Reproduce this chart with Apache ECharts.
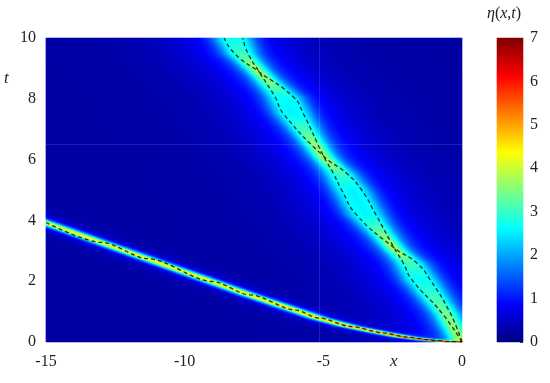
<!DOCTYPE html>
<html><head><meta charset="utf-8">
<script src="https://cdn.jsdelivr.net/npm/echarts@6/dist/echarts.min.js"></script>
<style>html,body{margin:0;padding:0;background:#fff}#c{width:550px;height:383px}</style>
</head><body><div id="c"></div>
<script>
// ---- data ----
const xTicks = [-15, -10, -5, 0];
const tTicks = [0, 2, 4, 6, 8, 10];
const colorTicks = [0, 1, 2, 3, 4, 5, 6, 7];
// lower (fast) soliton trajectory [x, t]
const lowerSoliton = [[-15,3.93],[-13,3.28],[-11.32,2.74],[-9,1.99],[-7.64,1.55],[-6,1.05],[-5.16,0.79],[-4,0.51],[-2.84,0.30],[-2,0.16],[-1.05,0.06],[-0.5,0.02],[0,0]];
// two interacting slow solitons [x, t]
const upperSolitonA = [[0,0],[-0.43,0.96],[-1.15,2.05],[-1.63,2.60],[-2.45,3.10],[-3.80,4.18],[-4.34,5.0],[-4.64,5.55],[-4.99,6.11],[-5.72,7.51],[-6.08,8.06],[-7.31,8.88],[-8.19,9.48],[-8.58,10]];
const upperSolitonB = [[0,0],[-0.73,0.96],[-1.81,2.05],[-2.12,2.60],[-2.45,3.10],[-3.10,4.18],[-3.62,5.0],[-4.16,5.55],[-4.99,6.11],[-6.44,7.51],[-6.74,8.06],[-7.31,8.88],[-7.71,9.48],[-7.91,10]];
// peak height of the lower soliton along t [t, eta]
const lowerAmplitude = [[0,7],[0.05,5.8],[0.15,5.0],[0.3,4.6],[0.8,4.2],[1.5,4.0],[4,3.8]];
const upperAmplitude = [1.2];
const haloAmplitude = [0.75, 0.3];
const backgroundLevel = [0.24];

const jet = ['#00007F','#0000FF','#0080FF','#00FFFF','#80FF80','#FFFF00','#FF8000','#FF0000','#800000'];

// ---- field reconstruction helpers ----
function lerp(pts, ki, vi, q) {
  const n = pts.length;
  let a, b;
  if (q <= pts[0][ki]) { a = pts[0]; b = pts[1]; }
  else if (q >= pts[n-1][ki]) { a = pts[n-2]; b = pts[n-1]; }
  else {
    for (let k = 0; k < n-1; k++) {
      if (q >= pts[k][ki] && q <= pts[k+1][ki]) { a = pts[k]; b = pts[k+1]; break; }
    }
  }
  const d = b[ki] - a[ki];
  if (d === 0) return a[vi];
  return a[vi] + (b[vi] - a[vi]) * (q - a[ki]) / d;
}
function sech2(u) { if (Math.abs(u) > 20) return 0; const c = Math.cosh(u); return 1/(c*c); }
const lowerByT = lowerSoliton.slice().reverse();

const NX = 208, NT = 304;
const xCats = [], tCats = [];
for (let i = 0; i < NX; i++) xCats.push(String(i));
for (let j = 0; j < NT; j++) tCats.push(String(j));
const field = [];
for (let j = 0; j < NT; j++) {
  const t = (j + 0.5) * 10 / NT;
  const xl = lerp(lowerByT, 1, 0, t);
  const al = lerp(lowerAmplitude, 0, 1, t);
  const xa = lerp(upperSolitonA, 1, 0, t);
  const xb = lerp(upperSolitonB, 1, 0, t);
  const xm = (xa + xb) / 2;
  for (let i = 0; i < NX; i++) {
    const x = -15 + (i + 0.5) * 15 / NX;
    let v = backgroundLevel[0];
    v += al * sech2((x - xl) / 0.34);
    v += 0.2 * sech2((x - xl) / 1.1);
    v += upperAmplitude[0] * (sech2((x - xa) / 0.42) + sech2((x - xb) / 0.42));
    v += haloAmplitude[0] * sech2((x - xm) / 1.4);
    v += haloAmplitude[1] * sech2((x - xm) / 3.0);
    field.push([i, j, Math.min(v, 7)]);
  }
}
const NCB = 152, cbCats = [], cbData = [];
for (let j = 0; j < NCB; j++) { cbCats.push(String(j)); cbData.push([0, j, (j + 0.5) * 7 / NCB]); }

const serif = 'Liberation Serif, Times New Roman, serif';
const dashStyle = { color: '#1a1a1a', width: 1.3, type: [4, 3], opacity: 0.9 };

const chart = echarts.init(document.getElementById('c'), null, { renderer: 'canvas' });
chart.setOption({
  animation: false,
  backgroundColor: '#fff',
  grid: [
    { left: 46, top: 38, width: 416, height: 304, containLabel: false, outerBoundsMode: 'none' },
    { left: 497, top: 38, width: 26, height: 304, containLabel: false, outerBoundsMode: 'none' }
  ],
  xAxis: [
    { type: 'category', gridIndex: 0, position: 'top', data: xCats, show: false },
    { type: 'value', gridIndex: 0, position: 'bottom', min: -15, max: 0, interval: 5,
      axisLine: { show: false }, axisTick: { show: false }, splitLine: { show: false },
      axisLabel: { fontFamily: serif, fontSize: 16, color: '#222', margin: 12 } },
    { type: 'category', gridIndex: 1, data: ['c'], show: false }
  ],
  yAxis: [
    { type: 'category', gridIndex: 0, position: 'right', data: tCats, show: false },
    { type: 'value', gridIndex: 0, position: 'left', min: 0, max: 10, interval: 2,
      axisLine: { show: false }, axisTick: { show: false }, splitLine: { show: false },
      axisLabel: { fontFamily: serif, fontSize: 16, color: '#222', margin: 10 } },
    { type: 'category', gridIndex: 1, position: 'left', data: cbCats, show: false },
    { type: 'value', gridIndex: 1, min: 0, max: 7, interval: 1, position: 'right',
      axisLine: { show: false }, splitLine: { show: false },
      axisTick: { show: true, inside: true, length: 3, lineStyle: { color: '#335533', width: 1 } },
      axisLabel: { fontFamily: serif, fontSize: 16, color: '#222', margin: 7 } }
  ],
  visualMap: {
    type: 'continuous', show: false, min: 0, max: 7, dimension: 2,
    seriesIndex: [0, 1], inRange: { color: jet }
  },
  series: [
    { type: 'heatmap', xAxisIndex: 0, yAxisIndex: 0, data: field, progressive: 0,
      itemStyle: { borderWidth: 0 }, emphasis: { disabled: true }, silent: true },
    { type: 'heatmap', xAxisIndex: 2, yAxisIndex: 2, data: cbData, progressive: 0,
      itemStyle: { borderWidth: 0 }, emphasis: { disabled: true }, silent: true },
    { type: 'line', xAxisIndex: 1, yAxisIndex: 1, data: lowerSoliton, showSymbol: false,
      smooth: 0.3, smoothMonotone: 'x', lineStyle: dashStyle, silent: true,
      markLine: { silent: true, symbol: 'none', label: { show: false },
        lineStyle: { color: 'rgba(255,255,255,0.12)', width: 1, type: 'solid' },
        data: [{ xAxis: -5.16 }, { yAxis: 6.51 }] } },
    { type: 'line', xAxisIndex: 1, yAxisIndex: 1, data: upperSolitonA, showSymbol: false,
      smooth: 0.5, lineStyle: dashStyle, silent: true },
    { type: 'line', xAxisIndex: 1, yAxisIndex: 1, data: upperSolitonB, showSymbol: false,
      smooth: 0.5, lineStyle: dashStyle, silent: true }
  ],
  graphic: [
    { type: 'text', left: 4, top: 70, style: { text: 't', font: 'italic 17px ' + serif, fill: '#222' } },
    { type: 'text', left: 390, top: 353, style: { text: 'x', font: 'italic 17px ' + serif, fill: '#222' } },
    { type: 'text', left: 487, top: 6, style: {
        text: '{i|η}({i|x},{i|t})',
        font: '16px ' + serif, fill: '#222',
        rich: { i: { fontStyle: 'italic', fontFamily: serif, fontSize: 16, fill: '#222' } } } }
  ]
});
</script>
</body></html>
